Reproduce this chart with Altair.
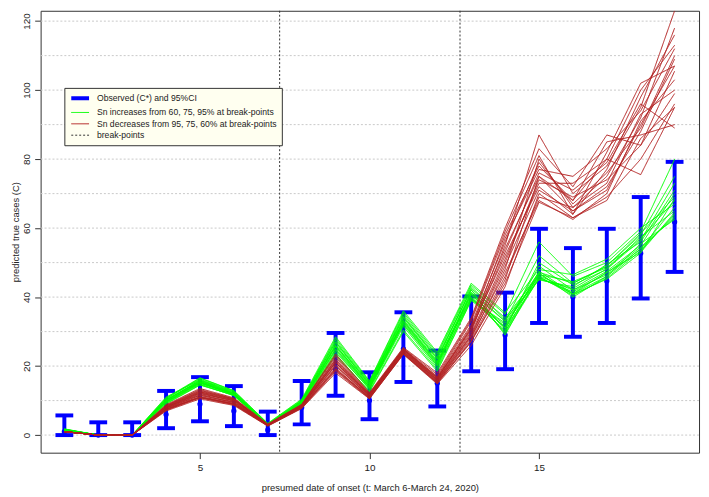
import altair as alt
import pandas as pd

# ---------------- data ----------------
t = list(range(1, 20))
observed = [1, 0, 0, 6, 9, 7, 1.5, 8, 19, 10, 25, 15, 28, 29, 45.5, 40, 44.7, 52.7, 61.8]
ci_low = [0, 0, 0, 2, 4, 2.6, 0, 3.1, 11.4, 4.6, 15.4, 8.3, 18.5, 19.1, 32.5, 28.5, 32.5, 39.6, 47.3]
ci_high = [5.7, 3.7, 3.7, 12.8, 16.8, 14.2, 6.8, 15.7, 29.6, 18.2, 35.6, 24.5, 40.2, 41.3, 59.8, 54.2, 59.8, 69, 79.2]

green_runs = [
    [1.5, 0, 0, 10.5, 16.5, 12.8, 3.2, 10, 28, 15.5, 35.5, 23.5, 43.5, 35, 56, 46, 50, 59, 80],
    [1.8, 0, 0, 11, 16, 12.5, 3, 9.8, 27, 15, 34.5, 22.5, 42, 33, 52, 44, 49, 58, 75],
    [1.6, 0, 0, 10, 15.5, 12, 3.1, 9.5, 26, 14.5, 33.5, 21.5, 41, 31, 49, 42, 47.5, 55, 70],
    [1.4, 0, 0, 9.5, 15, 11.8, 2.9, 9.2, 25, 14, 33, 21, 40, 30, 47.5, 41, 46, 54, 66],
    [1.5, 0, 0, 9, 14.5, 11.6, 3, 9, 24, 13.5, 32, 20, 39.5, 32, 46, 40.5, 45.5, 53.5, 64],
    [1.7, 0, 0, 10.2, 15.8, 12.2, 3, 9.6, 26.5, 14.8, 34, 22, 42.5, 34, 46.5, 44.5, 48.5, 57, 68],
    [1.3, 0, 0, 9.8, 15.2, 11.9, 2.8, 9.4, 25.5, 13.8, 32.5, 20.5, 40.5, 29.5, 45.5, 41.5, 47, 54.5, 63],
    [1.5, 0, 0, 10.6, 16.2, 12.6, 3.3, 10.2, 27.5, 15.2, 35, 23, 43, 33.5, 45, 43, 49.5, 56, 71],
    [1.6, 0, 0, 9.2, 14.6, 11.5, 2.7, 8.8, 23.5, 12.5, 30, 18.5, 39, 31.5, 47, 40, 46, 55.5, 62.5],
    [1.4, 0, 0, 10.3, 15.6, 12.1, 3.1, 9.7, 26, 14.2, 33.2, 21.2, 41.5, 30.5, 50, 43.5, 48, 57.5, 65],
    [1.5, 0, 0, 9.7, 15.3, 11.7, 2.9, 9.1, 24.5, 13.2, 31.5, 19.5, 39.8, 30, 45.8, 41, 47.2, 53, 64.5],
    [1.7, 0, 0, 10.8, 16.6, 12.9, 3.4, 10.4, 28.5, 15.7, 36, 24, 44, 35.5, 48, 46.5, 51, 60, 67],
    [1.5, 0, 0, 9.4, 14.8, 11.4, 2.8, 8.9, 23, 12.8, 30.5, 19, 39.2, 32.5, 46.2, 42, 46.5, 54, 63.5],
    [1.6, 0, 0, 10, 15.9, 12.3, 3, 9.9, 27, 14.6, 34.2, 22.2, 42.2, 29, 46.8, 40.8, 45.2, 52.8, 68.5],
    [1.4, 0, 0, 10.1, 15.4, 12, 3.2, 9.3, 25.8, 14, 32.8, 20.8, 40.8, 31, 45.2, 42.5, 48.2, 56.5, 73],
    [1.5, 0, 0, 9.6, 15.1, 11.8, 3, 9.5, 24.8, 13.6, 32.2, 20.2, 41.2, 33, 47.2, 44, 49, 58.5, 69],
]

red_runs = [
    [1, 0, 0, 8, 12, 10, 3, 8.5, 21, 11.5, 24.5, 16, 30, 55, 87, 70, 78, 95, 123],
    [1, 0, 0, 7.5, 11, 9, 2.8, 8, 19, 11, 24, 15.5, 28, 48, 80, 66, 75, 92, 118],
    [1, 0, 0, 8.5, 13, 10.5, 3, 8.8, 22.5, 12, 25, 17, 33, 58, 78, 68, 80, 100, 113],
    [1, 0, 0, 7.2, 10.8, 8.8, 2.7, 7.8, 18.5, 10.6, 23.5, 15, 27, 45, 75, 65, 72, 88, 109],
    [1, 0, 0, 8.2, 12.5, 10.2, 3.1, 8.6, 21.5, 11.8, 24.8, 16.5, 31, 52, 72, 64, 82, 102, 107],
    [1, 0, 0, 7.8, 11.5, 9.5, 2.9, 8.2, 20, 11.2, 24.2, 15.8, 29, 50, 74, 69, 74, 84, 105.5],
    [1, 0, 0, 8.8, 13.5, 10.8, 3.2, 8.9, 23.5, 12.3, 25.4, 18, 34, 60, 83, 72, 87, 84, 99],
    [1, 0, 0, 7, 10.5, 8.6, 2.6, 7.7, 18, 10.5, 23.4, 14.8, 26, 43, 70, 63, 68, 86, 95],
    [1, 0, 0, 8, 12.2, 9.8, 3, 8.4, 21, 11.4, 24.6, 16.2, 30.5, 53, 76, 71, 79, 96, 89],
    [1, 0, 0, 7.6, 11.2, 9.2, 2.8, 8.1, 19.5, 10.9, 23.8, 15.4, 28.5, 47, 68, 62.5, 70, 91, 103],
    [1, 0, 0, 8.4, 12.8, 10.4, 3, 8.7, 22, 11.9, 25, 16.8, 32, 56, 79, 67, 76, 89, 110],
    [1, 0, 0, 7.9, 11.8, 9.6, 2.9, 8.3, 20.5, 11.3, 24.3, 16, 29.5, 51, 73, 73, 80, 75.5, 95],
    [1, 0, 0, 8.6, 13.2, 10.6, 3.1, 8.8, 23, 12.1, 25.2, 17.5, 33.5, 59, 81, 64, 77, 98, 116],
    [1, 0, 0, 7.4, 11, 9.1, 2.8, 8, 19.2, 10.8, 23.7, 15.2, 27.5, 46, 69, 66, 73, 93, 100],
    [1, 0, 0, 8.1, 12.3, 10, 3, 8.5, 21.2, 11.6, 24.7, 16.4, 31.5, 54, 75, 68, 85, 87, 90],
    [1, 0, 0, 7.7, 11.6, 9.4, 2.9, 8.2, 20.2, 11.1, 24.1, 15.7, 28.8, 49, 71, 65, 71, 90, 107],
    [1, 0, 0, 8.3, 12.6, 10.3, 3, 8.6, 21.8, 11.7, 24.9, 16.6, 30.8, 57, 77, 75, 83, 94, 112],
    [1, 0, 0, 7.3, 10.9, 8.9, 2.7, 7.9, 18.8, 10.7, 23.6, 15.1, 27.2, 44, 67.5, 63, 69, 80, 96],
]

breakpoints = [7.35, 12.67]
grid_values = [0, 10, 20, 30, 40, 50, 60, 70, 80, 90, 100, 110, 120]
y_ticks = [0, 20, 40, 60, 80, 100, 120]
x_ticks = [5, 10, 15]

labels = [
    "Observed (C*) and 95%CI",
    "Sn increases from 60, 75, 95% at break-points",
    "Sn decreases from 95, 75, 60% at break-points",
    "break-points",
]
colors = ["#0000FF", "#00FF00", "#B22222", "#333333"]

# ---------------- tables ----------------
obs_df = pd.DataFrame({"t": t, "obs": observed, "lo": ci_low, "hi": ci_high, "series": labels[0]})
green_df = pd.DataFrame(
    [{"t": tt, "value": v, "run": f"g{i}", "series": labels[1]} for i, r in enumerate(green_runs) for tt, v in zip(t, r)]
)
red_df = pd.DataFrame(
    [{"t": tt, "value": v, "run": f"r{i}", "series": labels[2]} for i, r in enumerate(red_runs) for tt, v in zip(t, r)]
)
bp_df = pd.DataFrame({"bp": breakpoints, "series": labels[3]})
grid_df = pd.DataFrame({"g": grid_values})

FONT = "Liberation Sans"

x_scale = alt.Scale(domain=[0.3, 19.72], nice=False, zero=False)
y_scale = alt.Scale(domain=[-5.1, 123], nice=False, zero=False)

legend = alt.Legend(
    title=None,
    orient="none",
    legendX=24,
    legendY=78,
    fillColor="#FFFFF0",
    strokeColor="#333333",
    padding=5,
    labelFont=FONT,
    labelFontSize=8.7,
    labelColor="#222222",
    labelLimit=400,
    symbolType="M-1,0H4.14",
    symbolSize=49,
    rowPadding=1.5,
    labelOffset=17,
    cornerRadius=0,
)

color_enc = alt.Color("series:N", scale=alt.Scale(domain=labels, range=colors), legend=legend)
width_enc = alt.StrokeWidth(
    "series:N", scale=alt.Scale(type="ordinal", domain=labels, range=[4, 1, 1, 1]), legend=legend
)
dash_enc = alt.StrokeDash(
    "series:N", scale=alt.Scale(domain=labels, range=[[1, 0], [1, 0], [1, 0], [2, 2]]), legend=legend
)

x_axis = alt.Axis(
    values=x_ticks,
    title="presumed date of onset (t: March 6-March 24, 2020)",
    grid=False,
    domain=False,
    tickColor="#333333",
    tickSize=6,
    labelFont=FONT,
    labelFontSize=10,
    labelColor="#222222",
    labelPadding=4,
    titleFont=FONT,
    titleFontSize=9.5,
    titleFontWeight="normal",
    titleColor="#222222",
    titlePadding=10,
)
y_axis = alt.Axis(
    values=y_ticks,
    title="predicted true cases (C)",
    grid=False,
    domain=False,
    tickColor="#333333",
    tickSize=6,
    labelAngle=270,
    labelAlign="center",
    labelBaseline="bottom",
    labelFont=FONT,
    labelFontSize=10,
    labelColor="#222222",
    labelPadding=3,
    titleFont=FONT,
    titleFontSize=9.5,
    titleFontWeight="normal",
    titleColor="#222222",
    titlePadding=1,
)

grid = alt.Chart(grid_df).mark_rule(color="#C8C8C8", strokeDash=[2, 2], strokeWidth=1).encode(
    y=alt.Y("g:Q", scale=y_scale, axis=y_axis)
)

bps = alt.Chart(bp_df).mark_rule().encode(
    x=alt.X("bp:Q", scale=x_scale, axis=x_axis),
    color=color_enc,
    strokeWidth=width_enc,
    strokeDash=dash_enc,
)

bars = alt.Chart(obs_df).mark_rule().encode(
    x=alt.X("t:Q", scale=x_scale, axis=x_axis),
    y=alt.Y("lo:Q", scale=y_scale, axis=y_axis),
    y2="hi:Q",
    color=color_enc,
    strokeWidth=width_enc,
    strokeDash=dash_enc,
)

caps_lo = alt.Chart(obs_df).mark_tick(orient="horizontal", size=18, thickness=4, color="#0000FF", opacity=1).encode(
    x=alt.X("t:Q", scale=x_scale, axis=x_axis),
    y=alt.Y("lo:Q", scale=y_scale, axis=y_axis),
)
caps_hi = alt.Chart(obs_df).mark_tick(orient="horizontal", size=18, thickness=4, color="#0000FF", opacity=1).encode(
    x=alt.X("t:Q", scale=x_scale, axis=x_axis),
    y=alt.Y("hi:Q", scale=y_scale, axis=y_axis),
)
points = alt.Chart(obs_df).mark_circle(size=28, color="#0000FF", opacity=1).encode(
    x=alt.X("t:Q", scale=x_scale, axis=x_axis),
    y=alt.Y("obs:Q", scale=y_scale, axis=y_axis),
)

green_lines = alt.Chart(green_df).mark_line(clip=True).encode(
    x=alt.X("t:Q", scale=x_scale, axis=x_axis),
    y=alt.Y("value:Q", scale=y_scale, axis=y_axis),
    detail="run:N",
    color=color_enc,
    strokeWidth=width_enc,
    strokeDash=dash_enc,
)
red_lines = alt.Chart(red_df).mark_line(clip=True).encode(
    x=alt.X("t:Q", scale=x_scale, axis=x_axis),
    y=alt.Y("value:Q", scale=y_scale, axis=y_axis),
    detail="run:N",
    color=color_enc,
    strokeWidth=width_enc,
    strokeDash=dash_enc,
)

chart = (
    alt.layer(grid, bps, bars, caps_lo, caps_hi, points, green_lines, red_lines)
    .properties(
        width=666,
        height=447,
        autosize=alt.AutoSizeParams(type="none"),
        padding={"left": 33, "top": 0, "right": 2, "bottom": 40},
        background="white",
    )
    .configure_view(stroke="#333333", strokeWidth=1)
)

chart.save("out.html", embed_options={"renderer": "svg", "actions": False})
